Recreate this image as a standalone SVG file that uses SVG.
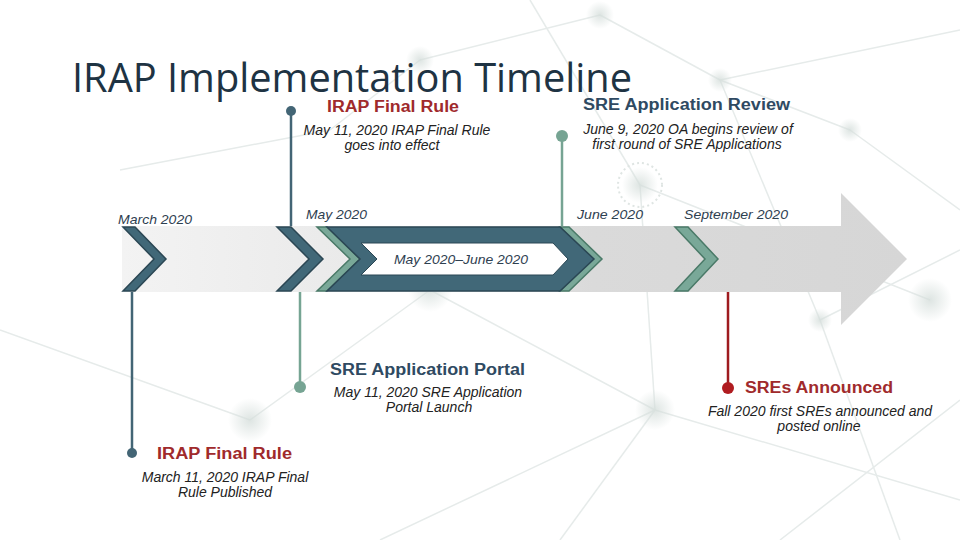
<svg xmlns="http://www.w3.org/2000/svg" width="960" height="540" viewBox="0 0 960 540">
<defs>
<linearGradient id="band" x1="0" y1="0" x2="1" y2="0">
<stop offset="0" stop-color="#f3f3f3"/>
<stop offset="0.35" stop-color="#e8e8e8"/>
<stop offset="0.6" stop-color="#dadada"/>
<stop offset="1" stop-color="#d6d6d6"/>
</linearGradient>
<radialGradient id="blob">
<stop offset="0" stop-color="#d5dedb" stop-opacity="0.8"/>
<stop offset="1" stop-color="#d5dedb" stop-opacity="0"/>
</radialGradient>
<style>
.bg line{stroke:#e6ebea;stroke-width:1.5}
.title{font-family:"Open Sans","Liberation Sans",sans-serif;font-size:40px;fill:#1e3343}
.head{font-family:"Liberation Sans",Arial,sans-serif;font-weight:bold;font-size:16px}
.red{fill:#a02a2c}
.blue{fill:#2f4a62}
.desc{font-family:"Liberation Sans",Arial,sans-serif;font-style:italic;font-size:14px;fill:#222;text-anchor:middle}
.date{font-family:"Liberation Sans",Arial,sans-serif;font-style:italic;font-size:13px;fill:#2e4050}
.dk{fill:#416878;stroke:#2b4754;stroke-width:1.5;stroke-linejoin:miter}
.gr{fill:#79a898;stroke:#4a7a68;stroke-width:1.5;stroke-linejoin:miter}
.ldk{stroke:#436575;stroke-width:2.5}
.lgr{stroke:#76a493;stroke-width:2.5}
.lrd{stroke:#9e1b1f;stroke-width:2.5}
</style>
</defs>
<rect width="960" height="540" fill="#ffffff"/>
<g class="bg">
<line x1="530" y1="0" x2="640" y2="185"/>
<line x1="640" y1="185" x2="930" y2="300"/>
<line x1="640" y1="185" x2="655" y2="410"/>
<line x1="655" y1="410" x2="560" y2="540"/>
<line x1="655" y1="410" x2="960" y2="500"/>
<line x1="600" y1="15" x2="720" y2="80"/>
<line x1="720" y1="80" x2="960" y2="30"/>
<line x1="720" y1="80" x2="820" y2="320"/>
<line x1="820" y1="320" x2="960" y2="250"/>
<line x1="820" y1="320" x2="900" y2="540"/>
<line x1="420" y1="60" x2="600" y2="15"/>
<line x1="420" y1="60" x2="330" y2="130"/>
<line x1="330" y1="130" x2="120" y2="170"/>
<line x1="430" y1="290" x2="655" y2="410"/>
<line x1="430" y1="290" x2="250" y2="420"/>
<line x1="380" y1="540" x2="655" y2="410"/>
<line x1="0" y1="330" x2="250" y2="420"/>
<line x1="850" y1="130" x2="960" y2="210"/>
<line x1="720" y1="80" x2="850" y2="130"/>
<line x1="780" y1="540" x2="960" y2="400"/>
</g>
<g>
<circle cx="655" cy="410" r="20" fill="url(#blob)"/>
<circle cx="640" cy="185" r="18" fill="url(#blob)"/>
<circle cx="640" cy="185" r="22" fill="none" stroke="#dfe5e3" stroke-width="2" stroke-dasharray="2 3"/>
<circle cx="720" cy="80" r="12" fill="url(#blob)"/>
<circle cx="420" cy="60" r="14" fill="url(#blob)"/>
<circle cx="600" cy="15" r="14" fill="url(#blob)"/>
<circle cx="820" cy="320" r="12" fill="url(#blob)"/>
<circle cx="930" cy="300" r="22" fill="url(#blob)"/>
<circle cx="430" cy="290" r="22" fill="url(#blob)"/>
<circle cx="250" cy="420" r="22" fill="url(#blob)"/>
<circle cx="850" cy="130" r="12" fill="url(#blob)"/>
</g>

<text class="title" x="72" y="92" textLength="560" lengthAdjust="spacingAndGlyphs">IRAP Implementation Timeline</text>

<g id="band">
<polygon points="122,226 841,226 841,193 907,259 841,325 841,292 122,292" fill="url(#band)"/>
</g>

<g id="connectors">
<line class="ldk" x1="291" y1="111" x2="291" y2="226"/>
<line class="lgr" x1="562" y1="136" x2="562" y2="226"/>
<line class="ldk" x1="132" y1="292" x2="132" y2="453"/>
<line class="lgr" x1="300" y1="292" x2="300" y2="387"/>
<line class="lrd" x1="728" y1="292" x2="728" y2="388"/>
<circle cx="291" cy="111" r="5" fill="#436575"/>
<circle cx="562" cy="136" r="6" fill="#76a493"/>
<circle cx="132" cy="453" r="5" fill="#436575"/>
<circle cx="300" cy="387" r="6" fill="#76a493"/>
<circle cx="728" cy="388" r="6" fill="#b01c20"/>
</g>

<g id="chevron-march">
<polygon class="dk" points="123,227 135,227 166,259 135,291 123,291 154,259"/>
</g>
<g id="chevron-may">
<polygon class="dk" points="277,227 291,227 323,259 291,291 277,291 309,259"/>
</g>
<g id="block-may-june">
<polygon class="gr" points="560,227 569,227 602,259 569,291 560,291 593,259"/>
<polygon class="gr" points="317,227 327,227 360,259 327,291 317,291 350,259"/>
<polygon class="dk" points="327,227 560,227 594,259 560,291 327,291 360,259"/>
<polygon points="361,243 553,243 568,259 553,275 361,275 377,259" fill="#ffffff" stroke="#2b4754" stroke-width="1"/>
<text class="date" x="394" y="264" textLength="134" lengthAdjust="spacingAndGlyphs">May 2020–June 2020</text>
</g>
<g id="chevron-september">
<polygon class="gr" points="675,227 688,227 718,259 688,291 675,291 705,259"/>
</g>

<g id="dates">
<text class="date" x="118" y="224" textLength="74" lengthAdjust="spacingAndGlyphs">March 2020</text>
<text class="date" x="306" y="219" textLength="61" lengthAdjust="spacingAndGlyphs">May 2020</text>
<text class="date" x="577" y="219" textLength="66" lengthAdjust="spacingAndGlyphs">June 2020</text>
<text class="date" x="684" y="219" textLength="104" lengthAdjust="spacingAndGlyphs">September 2020</text>
</g>

<g id="event-irap-effect">
<text class="head red" x="327" y="112" textLength="132" lengthAdjust="spacingAndGlyphs">IRAP Final Rule</text>
<text class="desc" x="397" y="135">May 11, 2020 IRAP Final Rule</text>
<text class="desc" x="392" y="150">goes into effect</text>
</g>
<g id="event-sre-review">
<text class="head blue" x="583" y="110" textLength="207" lengthAdjust="spacingAndGlyphs">SRE Application Review</text>
<text class="desc" x="688" y="134">June 9, 2020 OA begins review of</text>
<text class="desc" x="687" y="149">first round of SRE Applications</text>
</g>
<g id="event-sre-portal">
<text class="head blue" x="330" y="375" textLength="195" lengthAdjust="spacingAndGlyphs">SRE Application Portal</text>
<text class="desc" x="428" y="397">May 11, 2020 SRE Application</text>
<text class="desc" x="429" y="412">Portal Launch</text>
</g>
<g id="event-irap-published">
<text class="head red" x="157" y="459" textLength="135" lengthAdjust="spacingAndGlyphs">IRAP Final Rule</text>
<text class="desc" x="225" y="482">March 11, 2020 IRAP Final</text>
<text class="desc" x="225" y="497">Rule Published</text>
</g>
<g id="event-sres-announced">
<text class="head red" x="745" y="393" textLength="148" lengthAdjust="spacingAndGlyphs">SREs Announced</text>
<text class="desc" x="820" y="416">Fall 2020 first SREs announced and</text>
<text class="desc" x="819" y="431">posted online</text>
</g>
</svg>
